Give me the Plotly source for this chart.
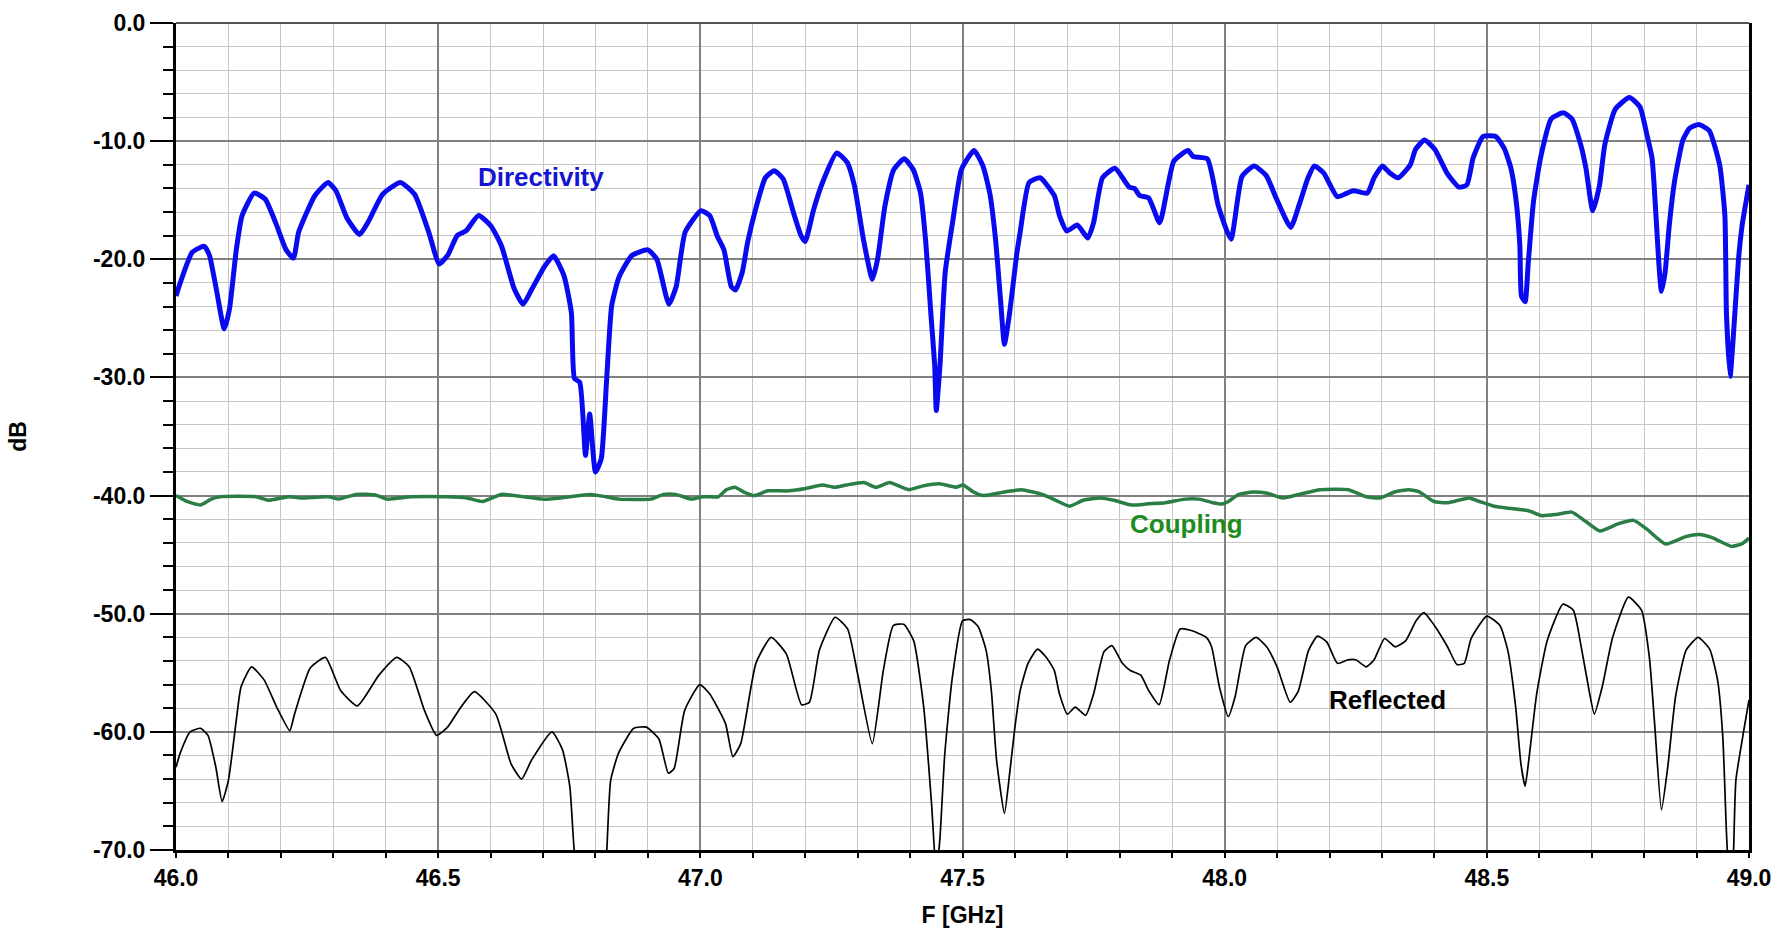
import plotly.graph_objects as go

# ---- measured traces (frequency in GHz, level in dB) ----
dir_f = [46.000, 46.008, 46.031, 46.054, 46.064, 46.078, 46.092, 46.102, 46.115, 46.126,
         46.149, 46.170, 46.190, 46.210, 46.224, 46.234, 46.265, 46.290, 46.305, 46.326,
         46.350, 46.367, 46.394, 46.428, 46.455, 46.482, 46.502, 46.519, 46.536, 46.553,
         46.577, 46.601, 46.621, 46.645, 46.662, 46.679, 46.703, 46.720, 46.740, 46.754,
         46.760, 46.770, 46.781, 46.789, 46.800, 46.811, 46.821, 46.831, 46.845, 46.869,
         46.900, 46.917, 46.940, 46.954, 46.971, 47.001, 47.018, 47.032, 47.045, 47.059,
         47.067, 47.080, 47.090, 47.107, 47.124, 47.141, 47.158, 47.178, 47.192, 47.200,
         47.216, 47.233, 47.260, 47.280, 47.294, 47.311, 47.328, 47.338, 47.352, 47.369,
         47.389, 47.406, 47.420, 47.430, 47.440, 47.447, 47.450, 47.457, 47.467, 47.481,
         47.498, 47.522, 47.539, 47.552, 47.563, 47.573, 47.580, 47.590, 47.603, 47.610,
         47.627, 47.648, 47.675, 47.685, 47.699, 47.719, 47.739, 47.750, 47.767, 47.791,
         47.818, 47.828, 47.838, 47.855, 47.876, 47.903, 47.930, 47.940, 47.967, 47.988,
         48.012, 48.033, 48.056, 48.079, 48.099, 48.126, 48.142, 48.159, 48.171, 48.189,
         48.215, 48.245, 48.272, 48.285, 48.301, 48.315, 48.331, 48.354, 48.364, 48.381,
         48.401, 48.424, 48.447, 48.462, 48.474, 48.493, 48.517, 48.533, 48.546, 48.556,
         48.563, 48.566, 48.573, 48.579, 48.589, 48.603, 48.623, 48.646, 48.662, 48.679,
         48.689, 48.702, 48.715, 48.725, 48.745, 48.772, 48.792, 48.805, 48.815, 48.821,
         48.828, 48.833, 48.840, 48.848, 48.858, 48.874, 48.887, 48.904, 48.924, 48.944,
         48.954, 48.957, 48.964, 48.970, 48.980, 48.987, 49.000]
dir_db = [-23.1, -22.0, -19.4, -18.9, -19.7, -22.8, -25.9, -24.2, -19.2, -16.3,
          -14.4, -14.9, -16.9, -19.2, -19.9, -17.7, -14.6, -13.5, -14.2, -16.5,
          -17.9, -16.8, -14.5, -13.5, -14.5, -17.7, -20.4, -19.6, -18.0, -17.6,
          -16.3, -17.2, -18.9, -22.5, -23.8, -22.5, -20.6, -19.7, -21.4, -24.5,
          -30.1, -30.4, -36.6, -33.1, -38.0, -36.9, -30.4, -23.9, -21.5, -19.7,
          -19.2, -20.0, -23.8, -22.3, -17.7, -15.9, -16.3, -18.0, -19.2, -22.3,
          -22.6, -21.1, -18.6, -15.5, -13.1, -12.5, -13.2, -16.1, -18.0, -18.5,
          -15.8, -13.5, -11.0, -11.8, -13.8, -18.3, -21.7, -20.0, -15.5, -12.4,
          -11.5, -12.4, -14.4, -18.6, -24.8, -29.0, -32.8, -29.0, -21.1, -16.9,
          -12.4, -10.8, -12.1, -14.4, -18.3, -23.7, -27.2, -24.5, -19.7, -17.7,
          -13.5, -13.1, -14.6, -16.3, -17.6, -17.1, -18.2, -16.9, -13.1, -12.3,
          -13.9, -14.0, -14.6, -14.8, -16.9, -11.7, -10.8, -11.3, -11.5, -15.5,
          -18.3, -13.0, -12.1, -12.9, -14.9, -17.3, -15.4, -13.1, -12.1, -12.7,
          -14.7, -14.2, -14.4, -13.1, -12.1, -12.7, -13.1, -12.0, -10.7, -9.9,
          -10.7, -12.7, -13.9, -13.7, -11.4, -9.6, -9.6, -10.6, -12.3, -15.1,
          -18.9, -23.1, -23.6, -20.3, -15.1, -11.3, -8.1, -7.6, -8.1, -10.3,
          -12.3, -15.9, -13.7, -10.3, -7.3, -6.3, -7.1, -9.4, -11.4, -15.1,
          -20.3, -22.7, -21.1, -17.1, -13.4, -9.9, -8.9, -8.6, -9.1, -12.0,
          -16.3, -24.6, -29.9, -26.6, -20.0, -17.1, -13.7]

cpl_f = [46.000, 46.021, 46.047, 46.067, 46.084, 46.153, 46.176, 46.215, 46.238, 46.291,
         46.310, 46.343, 46.380, 46.403, 46.449, 46.516, 46.555, 46.585, 46.621, 46.700,
         46.734, 46.790, 46.820, 46.845, 46.905, 46.930, 46.953, 46.983, 47.005, 47.034,
         47.050, 47.066, 47.083, 47.103, 47.129, 47.168, 47.201, 47.233, 47.256, 47.279,
         47.312, 47.335, 47.361, 47.397, 47.423, 47.456, 47.488, 47.501, 47.521, 47.540,
         47.580, 47.612, 47.652, 47.678, 47.704, 47.730, 47.763, 47.789, 47.822, 47.854,
         47.887, 47.925, 47.951, 47.977, 47.997, 48.007, 48.027, 48.054, 48.081, 48.111,
         48.142, 48.182, 48.236, 48.270, 48.297, 48.324, 48.351, 48.372, 48.399, 48.426,
         48.466, 48.486, 48.514, 48.547, 48.581, 48.605, 48.632, 48.662, 48.689, 48.716,
         48.750, 48.780, 48.804, 48.841, 48.878, 48.905, 48.932, 48.966, 48.986, 49.000]
cpl_db = [-40.0, -40.5, -40.8, -40.3, -40.1, -40.1, -40.4, -40.1, -40.2, -40.1,
          -40.3, -39.9, -39.95, -40.3, -40.1, -40.1, -40.2, -40.5, -39.9, -40.3,
          -40.2, -39.9, -40.1, -40.3, -40.3, -39.9, -39.9, -40.3, -40.1, -40.1,
          -39.5, -39.3, -39.7, -40.0, -39.6, -39.6, -39.4, -39.1, -39.3, -39.1,
          -38.9, -39.3, -38.9, -39.5, -39.2, -39.0, -39.3, -39.1, -39.7, -40.0,
          -39.7, -39.5, -39.9, -40.4, -40.9, -40.4, -40.2, -40.4, -40.8, -40.7,
          -40.6, -40.3, -40.3, -40.6, -40.7, -40.5, -39.9, -39.7, -39.8, -40.2,
          -39.9, -39.5, -39.5, -40.1, -40.2, -39.7, -39.5, -39.7, -40.5, -40.6,
          -40.2, -40.5, -40.9, -41.1, -41.3, -41.7, -41.6, -41.4, -42.2, -43.0,
          -42.4, -42.1, -42.8, -44.1, -43.5, -43.3, -43.6, -44.3, -44.1, -43.6]

ref_f = [46.000, 46.008, 46.027, 46.047, 46.061, 46.076, 46.088, 46.100, 46.115, 46.124,
         46.144, 46.168, 46.192, 46.217, 46.226, 46.256, 46.285, 46.314, 46.346, 46.387,
         46.421, 46.445, 46.474, 46.497, 46.518, 46.542, 46.569, 46.610, 46.639, 46.659,
         46.678, 46.717, 46.737, 46.751, 46.760, 46.781, 46.789, 46.800, 46.811, 46.821,
         46.829, 46.844, 46.873, 46.897, 46.921, 46.939, 46.950, 46.970, 46.999, 47.018,
         47.048, 47.062, 47.077, 47.106, 47.135, 47.164, 47.193, 47.208, 47.227, 47.257,
         47.281, 47.300, 47.328, 47.349, 47.368, 47.388, 47.407, 47.426, 47.441, 47.450,
         47.457, 47.466, 47.480, 47.500, 47.515, 47.530, 47.545, 47.555, 47.565, 47.580,
         47.590, 47.600, 47.610, 47.625, 47.643, 47.660, 47.675, 47.685, 47.700, 47.715,
         47.735, 47.750, 47.770, 47.785, 47.805, 47.820, 47.840, 47.855, 47.875, 47.895,
         47.915, 47.935, 47.965, 47.975, 47.990, 48.007, 48.020, 48.040, 48.060, 48.080,
         48.100, 48.125, 48.140, 48.160, 48.177, 48.195, 48.215, 48.235, 48.250, 48.270,
         48.285, 48.305, 48.325, 48.345, 48.365, 48.380, 48.400, 48.425, 48.443, 48.457,
         48.470, 48.500, 48.525, 48.540, 48.555, 48.565, 48.573, 48.580, 48.595, 48.615,
         48.645, 48.665, 48.680, 48.695, 48.705, 48.720, 48.740, 48.770, 48.795, 48.810,
         48.820, 48.833, 48.845, 48.860, 48.880, 48.903, 48.925, 48.940, 48.950, 48.957,
         48.964, 48.970, 48.975, 48.990, 49.000]
ref_db = [-63.0, -61.8, -60.0, -59.7, -60.3, -63.0, -65.9, -64.1, -59.0, -56.2,
          -54.5, -55.6, -57.9, -59.9, -58.5, -54.6, -53.7, -56.5, -57.8, -55.2,
          -53.7, -54.5, -58.2, -60.3, -59.6, -58.0, -56.6, -58.5, -62.7, -64.0,
          -62.4, -60.0, -61.5, -64.6, -70.3, -76.6, -73.1, -78.0, -76.9, -70.6,
          -64.1, -61.8, -59.7, -59.6, -60.6, -63.5, -63.1, -58.2, -56.0, -56.8,
          -59.3, -62.1, -61.0, -54.2, -52.0, -53.4, -57.7, -57.5, -53.1, -50.3,
          -51.3, -55.1, -61.0, -54.8, -51.0, -50.9, -52.3, -57.9, -66.1, -72.0,
          -69.0, -62.0, -55.6, -50.6, -50.5, -51.1, -53.1, -56.5, -62.4, -66.9,
          -63.5, -59.6, -56.5, -54.2, -53.0, -53.7, -54.8, -56.8, -58.5, -57.9,
          -58.6, -56.8, -53.2, -52.7, -54.2, -54.8, -55.2, -56.5, -57.7, -53.9,
          -51.3, -51.4, -52.0, -52.8, -56.2, -58.7, -57.0, -52.7, -52.0, -52.8,
          -54.5, -57.5, -56.6, -53.1, -51.9, -52.4, -54.2, -53.9, -53.9, -54.5,
          -53.9, -52.1, -52.8, -52.3, -50.6, -49.9, -51.0, -52.8, -54.3, -54.2,
          -52.1, -50.2, -51.0, -53.1, -57.9, -62.7, -64.6, -62.4, -56.8, -52.3,
          -49.2, -49.7, -52.8, -56.5, -58.5, -56.2, -52.0, -48.6, -49.7, -53.7,
          -59.3, -66.6, -63.0, -57.0, -53.1, -52.0, -53.0, -55.6, -60.4, -68.5,
          -74.2, -70.8, -64.1, -59.9, -57.3]

# axis ticks and labels
x_ticks = [46.0, 46.5, 47.0, 47.5, 48.0, 48.5, 49.0]
x_tick_text = ["46.0", "46.5", "47.0", "47.5", "48.0", "48.5", "49.0"]
y_ticks = [0, -10, -20, -30, -40, -50, -60, -70]
y_tick_text = ["0.0", "-10.0", "-20.0", "-30.0", "-40.0", "-50.0", "-60.0", "-70.0"]

FONT = "Liberation Sans, Arial, sans-serif"
MAJOR_GRID = "#808080"
MINOR_GRID = "#c6c6c6"

fig = go.Figure()
fig.add_trace(go.Scatter(x=ref_f, y=ref_db, mode="lines", name="Reflected",
                         line=dict(color="#000000", width=1.7, shape="spline", smoothing=0.5)))
fig.add_trace(go.Scatter(x=cpl_f, y=cpl_db, mode="lines", name="Coupling",
                         line=dict(color="#2b7d46", width=3.5, shape="spline", smoothing=0.5)))
fig.add_trace(go.Scatter(x=dir_f, y=dir_db, mode="lines", name="Directivity",
                         line=dict(color="#0a0af0", width=5, shape="spline", smoothing=0.5)))

fig.add_annotation(x=46.696, y=-13.0, text="Directivity", showarrow=False,
                   font=dict(family=FONT, size=26, color="#1414d2", weight="bold"))
fig.add_annotation(x=47.928, y=-42.4, text="Coupling", showarrow=False,
                   font=dict(family=FONT, size=26, color="#1e8c1e", weight="bold"))
fig.add_annotation(x=48.31, y=-57.3, text="Reflected", showarrow=False,
                   font=dict(family=FONT, size=26, color="#000000", weight="bold"))

# top frame edge in grey
fig.add_shape(type="line", xref="paper", yref="paper", x0=0, x1=1, y0=1, y1=1,
              line=dict(color="#555555", width=2), layer="above")

fig.update_layout(
    width=1781, height=929,
    margin=dict(l=176, r=32, t=23, b=79, autoexpand=False),
    paper_bgcolor="white", plot_bgcolor="white",
    showlegend=False,
    font=dict(family=FONT, color="black"),
    xaxis=dict(
        range=[46.0, 49.0], tickmode="array", tickvals=x_ticks, ticktext=x_tick_text,
        showgrid=True, gridcolor=MAJOR_GRID, gridwidth=2,
        ticks="outside", ticklen=5, tickwidth=2, tickcolor="black",
        showline=True, linecolor="black", linewidth=3, mirror=False,
        zeroline=False,
        tickfont=dict(family=FONT, size=23, color="black", weight="bold"),
        title=dict(text="F [GHz]", standoff=18,
                   font=dict(family=FONT, size=23, color="black", weight="bold")),
        minor=dict(tick0=46.0, dtick=0.1, showgrid=True, gridcolor=MINOR_GRID, gridwidth=1.3,
                   ticks="outside", ticklen=5, tickwidth=1.5, tickcolor="black"),
        automargin=False,
    ),
    yaxis=dict(
        range=[-70, 0], tickmode="array", tickvals=y_ticks, ticktext=y_tick_text,
        showgrid=True, gridcolor=MAJOR_GRID, gridwidth=2,
        ticks="outside", ticklen=23, tickwidth=1.5, tickcolor="black",
        showline=True, linecolor="black", linewidth=3, mirror=True,
        zeroline=False,
        tickfont=dict(family=FONT, size=23, color="black", weight="bold"),
        title=dict(text="dB", standoff=60,
                   font=dict(family=FONT, size=23, color="black", weight="bold")),
        minor=dict(tick0=0, dtick=2, showgrid=True, gridcolor=MINOR_GRID, gridwidth=1.3,
                   ticks="outside", ticklen=10, tickwidth=1.5, tickcolor="black"),
        automargin=False,
    ),
)

fig.write_html("out.html")
